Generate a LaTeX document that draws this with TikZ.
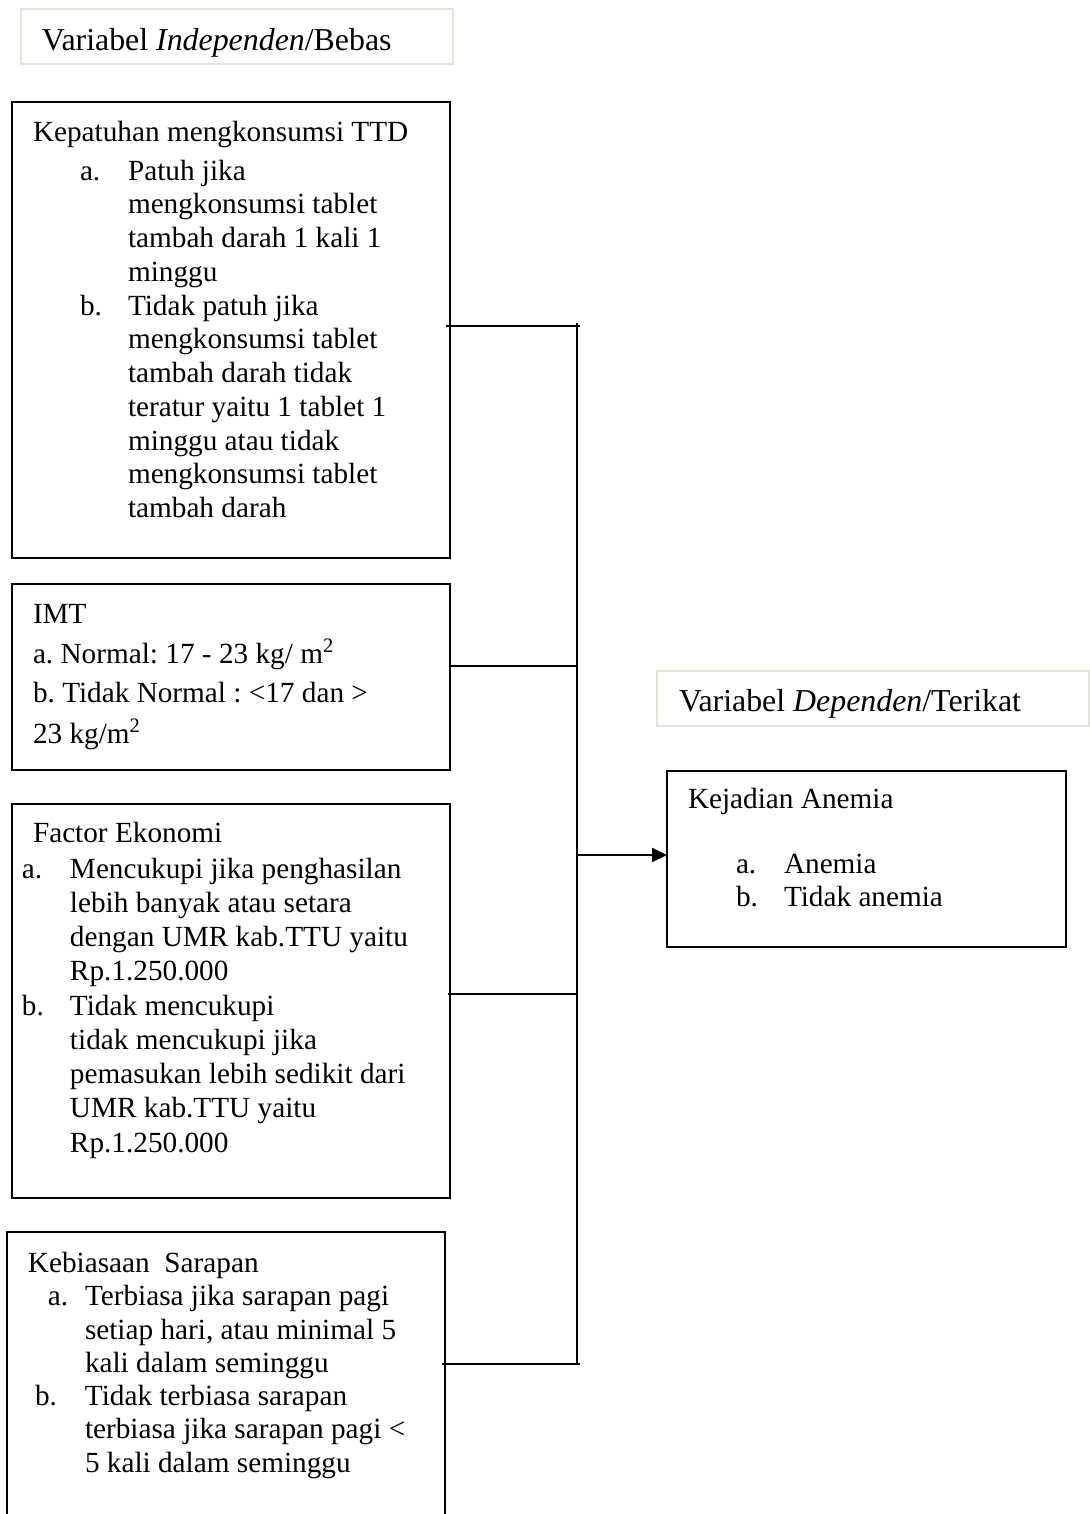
\documentclass[tikz,border=0pt]{standalone}
\usepackage{fontspec}
\setmainfont{Liberation Serif}
\usetikzlibrary{arrows.meta}
\definecolor{lblborder}{HTML}{E6E3D6}
\frenchspacing
\begin{document}
\frenchspacing
\begin{tikzpicture}[x=0.4pt,y=-0.4pt,
  box/.style={draw=black,line width=0.8pt,inner sep=0pt,outer sep=0pt,anchor=north west},
  lbl/.style={draw=lblborder,line width=1pt,inner sep=0pt,outer sep=0pt,anchor=north west,minimum width=172.8pt,minimum height=22pt},
  txt/.style={anchor=base west,inner sep=0pt,outer sep=0pt,font=\fontsize{11.7}{13.5}\selectfont},
  lbltxt/.style={anchor=base west,inner sep=0pt,outer sep=0pt,font=\fontsize{12.75}{15}\selectfont},
  conn/.style={line width=0.8pt}]
\useasboundingbox (0,0) rectangle (1090,1514);
\begin{scope}
\clip (0,0) rectangle (1090,1514);

% label boxes
\node[lbl] (L1) at (21,9) {};
\node[lbltxt] (L1t) at (42,50) {Variabel \textit{Independen}/Bebas};
\node[lbl] (L2) at (657,671) {};
\node[lbltxt] (L2t) at (679,711) {Variabel \textit{Dependen}/Terikat};

% boxes
\node[box,minimum width=175.2pt,minimum height=182.4pt] (b1) at (12,102) {};
\node[box,minimum width=175.2pt,minimum height=74.4pt] (b2) at (12,584) {};
\node[box,minimum width=175.2pt,minimum height=157.6pt] (b3) at (12,804) {};
\node[box,minimum width=175.2pt,minimum height=123.2pt] (b4) at (7,1232) {};
\node[box,minimum width=159.6pt,minimum height=70.4pt] (b5) at (667,771) {};

% box 1 text
\node[txt] (t1) at (33,141.5) {\begin{tabular}[t]{@{}l@{}}
Kepatuhan mengkonsumsi TTD\\[1.9pt]
\hspace*{18.8pt}\makebox[19.2pt][l]{a.}Patuh jika\\
\hspace*{38pt}mengkonsumsi tablet\\
\hspace*{38pt}tambah darah 1 kali 1\\
\hspace*{38pt}minggu\\
\hspace*{18.8pt}\makebox[19.2pt][l]{b.}Tidak patuh jika\\
\hspace*{38pt}mengkonsumsi tablet\\
\hspace*{38pt}tambah darah tidak\\
\hspace*{38pt}teratur yaitu 1 tablet 1\\
\hspace*{38pt}minggu atau tidak\\
\hspace*{38pt}mengkonsumsi tablet\\
\hspace*{38pt}tambah darah
\end{tabular}};

% box 2 text
\node[txt] (t2) at (33,623) {\begin{tabular}[t]{@{}l@{}}
IMT\\[2.3pt]
a. Normal: 17 - 23 kg/ m\textsuperscript{2}\\[2.3pt]
b. Tidak Normal : <17 dan >\\[2.3pt]
23 kg/m\textsuperscript{2}
\end{tabular}};

% box 3 text
\node[txt] (t3) at (22,842) {\begin{tabular}[t]{@{}l@{}}
\hspace*{4.4pt}Factor Ekonomi\\[0.9pt]
\makebox[19.2pt][l]{a.}Mencukupi jika penghasilan\\[0.2pt]
\hspace*{19.2pt}lebih banyak atau setara\\[0.2pt]
\hspace*{19.2pt}dengan UMR kab.TTU yaitu\\[0.2pt]
\hspace*{19.2pt}Rp.1.250.000\\[0.2pt]
\makebox[19.2pt][l]{b.}Tidak mencukupi\\[0.2pt]
\hspace*{19.2pt}tidak mencukupi jika\\[0.2pt]
\hspace*{19.2pt}pemasukan lebih sedikit dari\\[0.2pt]
\hspace*{19.2pt}UMR kab.TTU yaitu\\[0.2pt]
\hspace*{19.2pt}Rp.1.250.000
\end{tabular}};

% box 4 text
\node[txt] (t4) at (28,1272) {\begin{tabular}[t]{@{}l@{}}
Kebiasaan\ \ Sarapan\\
\hspace*{8pt}\makebox[14.8pt][l]{a.}Terbiasa jika sarapan pagi\\[-0.2pt]
\hspace*{22.8pt}setiap hari, atau minimal 5\\[-0.2pt]
\hspace*{22.8pt}kali dalam seminggu\\[-0.2pt]
\hspace*{2.8pt}\makebox[20pt][l]{b.}Tidak terbiasa sarapan\\[-0.2pt]
\hspace*{22.8pt}terbiasa jika sarapan pagi <\\[-0.2pt]
\hspace*{22.8pt}5 kali dalam seminggu
\end{tabular}};

% box 5 text
\node[txt] (t5) at (688,808) {\begin{tabular}[t]{@{}l@{}}
Kejadian Anemia\\[12.5pt]
\hspace*{19.2pt}\makebox[19.2pt][l]{a.}Anemia\\
\hspace*{19.2pt}\makebox[19.2pt][l]{b.}Tidak anemia
\end{tabular}};

% connectors
\coordinate (jt) at (577,323);
\coordinate (j1) at (577,325.5);
\coordinate (j2) at (577,666);
\coordinate (j3) at (577,994);
\coordinate (j4) at (577,1364);
\coordinate (ja) at (577,855);
\draw[conn] (jt) -- (j4);
\draw[conn] ([xshift=-1.6pt]b1.east |- j1) -- ([xshift=1.2pt]j1);
\draw[conn] (b2.east |- j2) -- ([xshift=0.4pt]j2);
\draw[conn] ([xshift=-0.8pt]b3.east |- j3) -- ([xshift=0.4pt]j3);
\draw[conn] ([xshift=-1.2pt]b4.east |- j4) -- ([xshift=1.2pt]j4);
\draw[conn,-{Triangle[length=6pt,width=5.6pt]}] (ja) -- (b5.west |- ja);
\end{scope}
\end{tikzpicture}
\end{document}
